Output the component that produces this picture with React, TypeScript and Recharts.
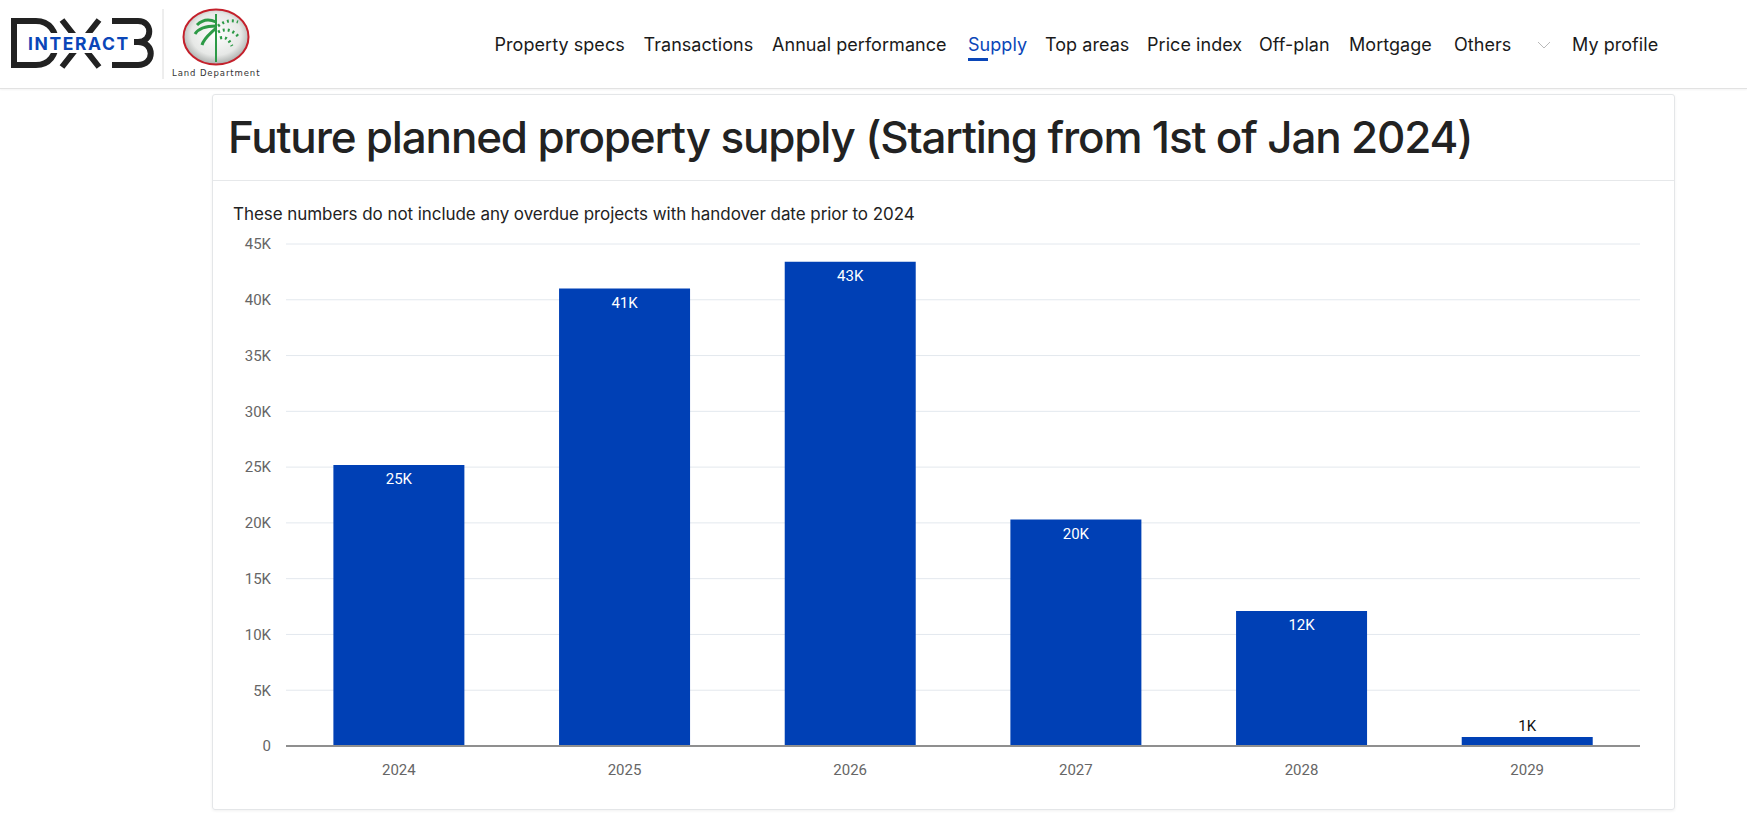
import React from "react";
import { BarChart, Bar, XAxis, YAxis, CartesianGrid, LabelList } from "recharts";

const years = ["2024", "2025", "2026", "2027", "2028", "2029"];
const supply = [25200, 41000, 43400, 20300, 12100, 800];
const yTicks = [0, 5000, 10000, 15000, 20000, 25000, 30000, 35000, 40000, 45000];
const navItems = [
  ["Property specs", 494.5],
  ["Transactions", 643.5],
  ["Annual performance", 772],
  ["Supply", 968],
  ["Top areas", 1045],
  ["Price index", 1147],
  ["Off-plan", 1259],
  ["Mortgage", 1349],
  ["Others", 1454],
  ["My profile", 1572],
] as const;

const rows = years.map((y, i) => ({ year: y, value: supply[i] }));
const fmtK = (v: number) => (v === 0 ? "0" : `${Math.round(v / 1000)}K`);
const font = "Inter, 'Noto Sans', sans-serif";

const BarLabel = (p: any) => {
  const inside = p.value > 5000;
  return (
    <text
      x={p.x + p.width / 2}
      y={inside ? p.y + 14 : p.y - 11}
      dy="0.35em"
      textAnchor="middle"
      fontFamily="Roboto"
      fontSize={15}
      fill={inside ? "#ffffff" : "#111111"}
    >
      {fmtK(p.value)}
    </text>
  );
};

const Logo = () => (
  <svg width={270} height={88} style={{ position: "absolute", left: 0, top: 0 }}>
    <defs>
      <radialGradient id="globe" cx="50%" cy="45%" r="55%">
        <stop offset="0%" stopColor="#ffffff" />
        <stop offset="70%" stopColor="#e6e8e6" />
        <stop offset="100%" stopColor="#a9adab" />
      </radialGradient>
    </defs>
    <g fill="none" stroke="#222222" strokeWidth={6}>
      <path d="M14 21 H36 C50 21 56 32 56 43 C56 54 50 65 36 65 H14 Z" />
      <path d="M62 20 L99 67 M99 20 L62 67" />
      <path d="M112 21 H138 C153 21 153 42 138 42 H118 M138 42 C155 42 155 65 138 65 H112" />
    </g>
    <rect x={26} y={33} width={108} height={20} fill="#ffffff" />
    <text x={28} y={50} fontFamily="Inter" fontWeight={700} fontSize={17.5} letterSpacing={1.6} fill="#0a46b8">INTERACT</text>
    <line x1={163} y1={9} x2={163} y2={79} stroke="#dcdcdc" strokeWidth={1} />
    <ellipse cx={216} cy={37} rx={32.5} ry={27.5} fill="url(#globe)" stroke="#c4202b" strokeWidth={2} />
    <g fill="none" stroke="#2c9a46" strokeWidth={3}>
      <path d="M216 62 V14" strokeWidth={2} />
      <path d="M216 22 C208 18 202 20 197 25 M216 26 C206 26 198 29 195 34 M216 28 C210 34 204 38 202 45" />
      <path d="M218 26 C226 20 232 20 238 22 M218 32 C226 28 232 30 238 36 M220 38 C226 36 229 40 232 46" strokeDasharray="2 3" />
    </g>
    <text x={172} y={76} fontFamily="DejaVu Sans" fontSize={8.5} letterSpacing={0.9} fill="#333333">Land Department</text>
  </svg>
);

export default function App() {
  return (
    <div style={{ position: "absolute", left: 0, top: 0, width: 1747, height: 816, background: "#fff", overflow: "hidden", fontFamily: font }}>
      <div style={{ position: "absolute", left: 0, top: 0, width: 1747, height: 88, borderBottom: "1px solid #e2e2e2", boxShadow: "0 1px 2px rgba(0,0,0,.05)" }} />
      <Logo />
      {navItems.map(([t, x]) => (
        <div key={t} style={{ position: "absolute", left: x, top: 33, fontSize: 18, letterSpacing: 0.05, lineHeight: "24px", whiteSpace: "nowrap", color: t === "Supply" ? "#0a46b8" : "#1a1a1a" }}>{t}</div>
      ))}
      <div style={{ position: "absolute", left: 968, top: 58, width: 20, height: 3, background: "#0a46b8" }} />
      <svg width={14} height={8} style={{ position: "absolute", left: 1537, top: 41 }}>
        <path d="M1 1 L7 7 L13 1" fill="none" stroke="#b9b9b9" strokeWidth={1} />
      </svg>
      <div style={{ position: "absolute", left: 212, top: 94, width: 1463, height: 716, border: "1px solid #e4e6e8", borderRadius: 3, boxShadow: "0 1px 3px rgba(0,0,0,.06)", boxSizing: "border-box" }} />
      <div style={{ position: "absolute", left: 213, top: 180, width: 1461, height: 1, background: "#e6e8ea" }} />
      <div style={{ position: "absolute", left: 228, top: 108, fontSize: 44, letterSpacing: -1.18, lineHeight: "58px", fontWeight: 500, color: "#222", whiteSpace: "nowrap" }}>
        Future planned property supply (Starting from 1st of Jan 2024)
      </div>
      <div style={{ position: "absolute", left: 233, top: 202, fontSize: 17, letterSpacing: -0.06, lineHeight: "24px", color: "#222", whiteSpace: "nowrap" }}>
        These numbers do not include any overdue projects with handover date prior to 2024
      </div>
      <div style={{ position: "absolute", left: 220, top: 230 }}>
        <BarChart width={1430} height={570} data={rows} barCategoryGap="21%" margin={{ top: 14, right: 10, bottom: 24, left: 0 }}>
          <CartesianGrid vertical={false} stroke="#e3e8ee" strokeWidth={1} />
          <XAxis dataKey="year" axisLine={{ stroke: "#8f8f8f", strokeWidth: 2 }} tickLine={false} tickMargin={12} tick={{ fontFamily: "Roboto", fontSize: 15, fill: "#666" }} />
          <YAxis width={66} domain={[0, 45000]} ticks={yTicks} tickFormatter={fmtK} axisLine={false} tickLine={false} tickMargin={9} tick={{ fontFamily: "Roboto", fontSize: 15, fill: "#666" }} />
          <Bar dataKey="value" fill="#0040b5" isAnimationActive={false}>
            <LabelList dataKey="value" content={BarLabel} />
          </Bar>
        </BarChart>
      </div>
    </div>
  );
}
